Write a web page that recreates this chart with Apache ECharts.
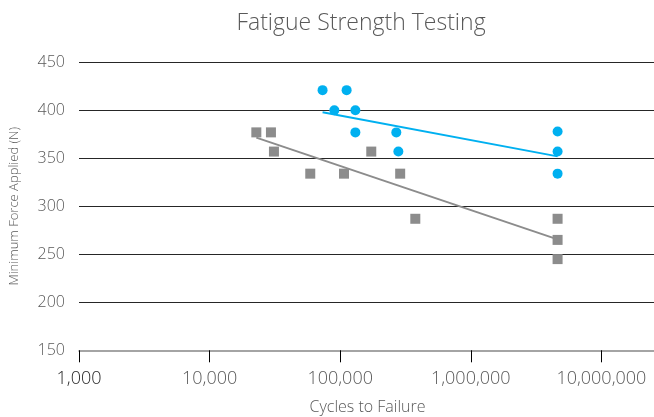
<!DOCTYPE html>
<html>
<head>
<meta charset="utf-8">
<script src="https://cdn.jsdelivr.net/npm/echarts@6/dist/echarts.min.js"></script>
<style>
  html, body { margin: 0; padding: 0; background: #fff; }
  #chart { width: 654px; height: 417px; }
</style>
</head>
<body>
<div id="chart"></div>
<script>
// cycles to failure / force
var blueX = [73300, 112000, 90200, 130700, 130700, 269000, 278900, 4620000, 4620000, 4620000];
var blueY = [421, 421, 400, 400, 377, 377, 357, 378, 357, 334];
var grayX = [22800, 29500, 31100, 59000, 107000, 173000, 288000, 376000, 4620000, 4620000, 4620000];
var grayY = [377, 377, 357, 334, 334, 357, 334, 287, 287, 265, 245];
// trend line ends
var blueTrendX = [73300, 4620000];
var blueTrendY = [398, 352];
var grayTrendX = [22800, 4620000];
var grayTrendY = [371.5, 265.5];
var yTicks = [150, 200, 250, 300, 350, 400, 450];

var font = "'Open Sans', 'Noto Sans', sans-serif";
var blue = "#00b0f0";
var gray = "#8c8c8c";

function pairs(xs, ys) {
  return xs.map(function (x, i) { return [x, ys[i]]; });
}

var chart = echarts.init(document.getElementById("chart"));

var option = {
  animation: false,
  title: {
    text: "Fatigue Strength Testing",
    left: 356,
    top: 7,
    textAlign: "center",
    textStyle: { fontFamily: font, fontWeight: 300, fontSize: 23, color: "#595959" }
  },
  grid: { left: 79, right: -2, top: 62.3, bottom: 66.7, outerBoundsMode: "none", containLabel: false },
  xAxis: {
    type: "log",
    logBase: 10,
    min: 1000,
    max: 26200000,
    name: "Cycles to Failure",
    nameLocation: "middle",
    nameGap: 49,
    nameTextStyle: { fontFamily: font, fontWeight: 300, fontSize: 16, color: "#595959" },
    axisLine: { lineStyle: { color: "#878787", width: 1.5 } },
    axisTick: { length: 12, lineStyle: { color: "#000" } },
    splitLine: { show: false },
    axisLabel: {
      margin: 20,
      fontFamily: font,
      fontWeight: 300,
      fontSize: 18,
      color: "#595959",
      showMaxLabel: false,
      formatter: function (v) {
        var e = Math.log10(v);
        if (Math.abs(e - Math.round(e)) > 1e-6) return "";
        var s = Math.round(v).toLocaleString("en-US");
        return v === 1000 ? "{d|" + s + "}" : s;
      },
      rich: { d: { color: "#262626", fontFamily: font, fontWeight: 300, fontSize: 18 } }
    }
  },
  yAxis: {
    type: "value",
    min: yTicks[0],
    max: yTicks[yTicks.length - 1],
    interval: 50,
    name: "Minimum Force Applied (N)",
    nameLocation: "middle",
    nameGap: 58,
    nameTextStyle: { fontFamily: font, fontWeight: 300, fontSize: 13, color: "#595959" },
    axisLine: { show: false },
    axisTick: { show: false },
    axisLabel: { margin: 14, fontFamily: font, fontWeight: 300, fontSize: 16, color: "#595959" },
    splitLine: { showMinLine: false, lineStyle: { color: "#262626", width: 1 } }
  },
  series: [
    {
      type: "line",
      data: pairs(grayTrendX, grayTrendY),
      symbol: "none",
      lineStyle: { color: gray, width: 2 },
      z: 1
    },
    {
      type: "line",
      data: pairs(blueTrendX, blueTrendY),
      symbol: "none",
      lineStyle: { color: blue, width: 2 },
      z: 1
    },
    {
      type: "scatter",
      data: pairs(grayX, grayY),
      symbol: "rect",
      symbolSize: 10,
      itemStyle: { color: gray, opacity: 1 },
      z: 2
    },
    {
      type: "scatter",
      data: pairs(blueX, blueY),
      symbol: "circle",
      symbolSize: 10,
      itemStyle: { color: blue, opacity: 1 },
      z: 2
    }
  ]
};

chart.setOption(option);
</script>
</body>
</html>
